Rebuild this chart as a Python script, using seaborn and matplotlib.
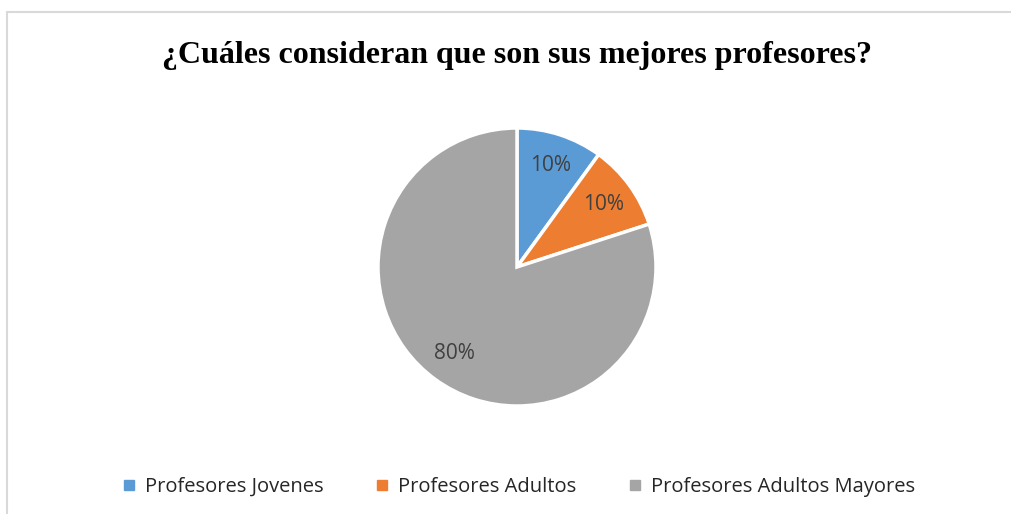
import matplotlib
matplotlib.use("Agg")
import matplotlib.pyplot as plt
from matplotlib.lines import Line2D
import seaborn as sns

categories = ["Profesores Jovenes", "Profesores Adultos", "Profesores Adultos Mayores"]
values = [10, 10, 80]
colors = ["#5B9BD5", "#ED7D31", "#A5A5A5"]
title = "¿Cuáles consideran que son sus mejores profesores?"

sns.set_theme(style="white")
plt.rcParams["font.family"] = ["Open Sans", "DejaVu Sans"]

W, H = 1012, 514
fig = plt.figure(figsize=(W / 100, H / 100), dpi=100)
fig.patch.set_facecolor("white")

# outer chart border (only left and top visible)
bx, by = 7.5 / W, 1 - 12 / H
fig.add_artist(Line2D([bx, bx], [-0.05, by], transform=fig.transFigure, color="#D9D9D9", linewidth=1.5))
fig.add_artist(Line2D([bx, 1.05], [by, by], transform=fig.transFigure, color="#D9D9D9", linewidth=1.5))

cx, cy, r = 517, 267, 139
ax = fig.add_axes([(cx - r) / W, (H - cy - r) / H, 2 * r / W, 2 * r / H])
palette = sns.color_palette(colors)
wedges, texts, autotexts = ax.pie(values, colors=palette, startangle=90, counterclock=False,
                                  autopct="%d%%", pctdistance=0.77, radius=1,
                                  wedgeprops=dict(edgecolor="white", linewidth=2.5),
                                  textprops=dict(color="#404040", fontsize=15))
ax.set_xlim(-1, 1)
ax.set_ylim(-1, 1)
ax.set_aspect("equal")
ax.axis("off")

fig.text(cx / W, 1 - 55 / H, title, ha="center", va="center", fontsize=23, fontweight="bold",
         family=["Liberation Serif", "DejaVu Serif"], color="black")

handles = [Line2D([], [], marker="s", linestyle="none", markersize=7, markerfacecolor=c,
                  markeredgecolor=c) for c in colors]
fig.legend(handles, categories, loc="center", bbox_to_anchor=(519 / W, 1 - 487 / H), ncol=3,
           frameon=False, fontsize=14.5, handlelength=0.6, handletextpad=0.5, columnspacing=2.6,
           labelcolor="#262626")

fig.savefig("out.png", dpi=100, facecolor="white")
